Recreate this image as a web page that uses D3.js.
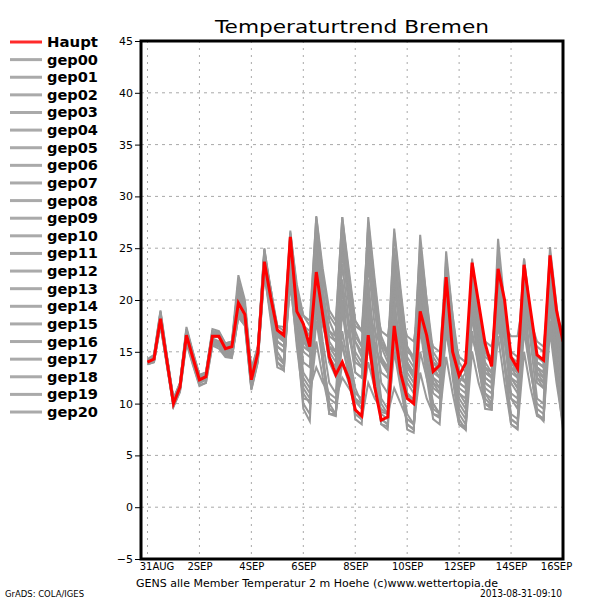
<!DOCTYPE html>
<html><head><meta charset="utf-8">
<script src="https://cdn.jsdelivr.net/npm/d3@7"></script>
<style>body{margin:0;background:#fff}svg{display:block}text{font-family:"DejaVu Sans",sans-serif}</style>
</head><body><svg id="c" width="600" height="600"></svg>
<script>
// ---- data (6-hourly steps, index 0 = 31AUG 00z) ----
const xLabels = ["31AUG","2SEP","4SEP","6SEP","8SEP","10SEP","12SEP","14SEP","16SEP"];
const xTickIdx = [0,8,16,24,32,40,48,56,64];
const yTicks = [-5,0,5,10,15,20,25,30,35,40,45];
const seriesNames = ["Haupt","gep00","gep01","gep02","gep03","gep04","gep05","gep06","gep07","gep08","gep09","gep10","gep11","gep12","gep13","gep14","gep15","gep16","gep17","gep18","gep19","gep20"];

const haupt = [14.0,14.3,18.2,14.1,10.0,11.6,16.6,14.4,12.3,12.6,16.5,16.5,15.3,15.5,19.7,18.6,12.3,14.9,
 23.7,20.2,17.1,16.6, 26.1,18.9,17.7,15.5, 22.7,18.5,14.5,12.8, 14.0,12.4,9.4,8.8, 16.6,11.6,8.4,8.7,
 17.5,12.9,10.5,10.0, 18.9,16.6,13.1,13.7, 22.2,15.0,12.7,13.9, 23.6,19.7,15.8,13.6, 23.0,20.0,14.5,13.4,
 23.4,19.0,14.7,14.2, 24.3,19.0,16.0];

const gep00 = [14.1,14.4,18.6,14.3,10.2,11.8,16.9,14.6,12.5,12.7,16.8,16.4,15.1,15.2,20.4,18.9,12.6,15.0,
 24.0,20.5,16.8,16.2, 25.4,19.5,17.0,15.2, 23.5,18.0,14.0,12.6, 15.5,13.0,10.2,9.5, 17.8,12.5,9.2,9.0,
 18.4,13.5,11.0,10.4, 19.5,16.0,13.0,13.5, 21.0,15.5,12.0,13.0, 22.0,18.5,15.0,13.8, 22.5,19.0,14.0,13.0,
 22.8,18.0,14.0,13.6, 23.5,18.5,15.5];
const gep01 = [14.2,14.6,18.9,14.5,10.4,11.9,17.2,14.8,12.6,12.9,16.9,16.8,15.6,15.8,21.5,19.5,12.9,15.3,
 24.5,21.0,17.5,17.0, 26.5,21.5,18.5,17.5, 28.0,22.5,18.0,16.5, 27.5,22.0,17.0,15.5, 26.0,20.5,15.5,14.0,
 24.0,19.0,14.0,13.0, 22.5,17.0,12.5,11.5, 20.0,15.0,11.0,10.0, 19.5,15.5,12.0,11.5, 21.0,16.0,11.0,10.5,
 22.0,17.0,12.5,12.0, 23.0,17.5,13.0];
const gep02 = [13.9,14.2,17.8,13.8,9.8,11.3,16.2,14.0,12.0,12.3,16.0,15.8,14.8,14.8,18.8,18.0,11.8,14.5,
 23.0,19.0,15.0,14.0, 22.0,15.5,10.5,10.3, 16.0,12.5,9.5,9.0, 14.0,12.0,11.0,10.5, 15.5,12.0,8.5,8.0,
 17.5,13.0,9.0,8.0, 19.0,14.0,10.0,9.0, 20.5,14.5,9.5,8.5, 21.0,16.0,11.0,10.0, 22.0,16.5,10.5,9.5,
 21.5,16.0,10.5,10.0, 22.5,16.5,11.0];
const gep03 = [14.3,14.7,19.0,14.6,10.5,12.0,17.4,15.0,12.8,13.0,17.2,17.0,15.8,16.0,22.4,20.0,13.2,15.5,
 25.0,20.5,17.0,16.5, 26.7,21.0,18.5,18.0, 28.1,23.0,19.0,18.0, 28.0,22.5,18.0,17.0, 27.0,21.0,16.0,15.0,
 26.5,20.5,15.5,14.5, 25.5,20.0,15.0,14.0, 24.0,18.5,14.0,13.0, 22.0,17.5,13.5,13.0, 24.5,18.5,13.5,12.5,
 23.5,18.0,14.5,14.0, 24.5,19.0,15.0];
const gep04 = [14.0,14.3,18.0,14.0,10.0,11.5,16.4,14.3,12.2,12.5,16.3,16.0,15.0,15.0,19.2,18.2,12.0,14.6,
 23.2,19.5,15.5,15.0, 24.5,18.0,13.0,12.0, 21.0,16.0,12.0,11.0, 19.5,15.0,11.5,10.0, 21.5,15.5,10.5,9.5,
 20.0,15.0,11.0,10.0, 17.0,14.0,12.0,11.5, 19.0,14.5,10.5,9.5, 20.5,15.0,10.5,9.8, 23.0,17.0,12.0,11.0,
 20.0,16.5,13.5,13.0, 21.5,16.0,11.0];
const gep05 = [14.1,14.5,18.5,14.4,10.3,11.9,17.0,14.7,12.6,12.8,16.7,16.6,15.5,15.7,21.0,19.2,12.8,15.2,
 24.2,20.0,16.5,16.0, 25.8,20.5,17.0,16.0, 26.5,20.0,15.0,14.0, 25.0,19.5,14.5,13.5, 28.0,22.0,16.5,15.0,
 25.0,19.0,14.0,12.5, 21.0,16.5,13.0,12.5, 22.0,16.0,11.5,11.0, 23.5,18.0,13.5,12.5, 25.9,19.5,14.0,13.0,
 22.5,17.5,13.0,12.0, 21.0,16.5,12.5];
const gep06 = [13.8,14.0,17.6,13.6,9.7,11.2,16.0,13.8,11.8,12.0,15.7,15.5,14.6,14.5,18.5,17.8,11.5,14.2,
 22.5,18.5,14.0,13.2, 23.0,17.0,12.0,11.0, 19.0,14.5,10.0,9.0, 17.0,13.5,9.5,8.5, 18.5,13.0,8.0,7.5,
 16.0,12.0,8.0,7.5, 15.0,12.5,10.0,9.0, 17.0,13.0,8.5,7.5, 18.5,14.0,9.5,9.4, 19.5,14.0,8.5,8.0,
 18.0,13.5,9.0,8.3, 19.5,13.0,8.0];
const gep07 = [14.0,14.4,18.3,14.3,10.2,11.8,16.8,14.6,12.5,12.8,16.6,16.7,15.6,15.8,20.0,19.0,13.0,15.2,
 23.8,20.5,17.5,17.4, 24.0,19.0,16.5,16.0, 22.0,18.5,16.5,16.0, 20.0,18.0,16.0,15.0, 19.0,17.0,15.5,15.0,
 18.5,16.5,15.0,14.5, 18.0,16.0,14.0,13.5, 19.5,16.5,14.5,14.0, 20.0,17.5,16.0,15.5, 19.0,17.5,16.5,16.5,
 20.5,18.0,16.0,15.5, 21.0,18.5,17.0];
const gep08 = [14.2,14.5,18.7,14.4,10.3,11.7,17.0,14.6,12.4,12.7,16.9,16.8,15.5,15.6,21.8,19.5,12.9,15.3,
 24.8,20.0,16.0,15.5, 26.0,20.0,16.5,15.0, 27.5,22.0,18.5,17.5, 28.0,23.0,18.0,17.0, 24.5,19.0,14.5,13.0,
 22.0,17.5,13.0,12.0, 23.0,18.0,13.5,12.5, 21.5,16.5,12.0,11.5, 22.5,17.0,12.5,12.0, 23.5,18.5,14.5,14.0,
 24.0,18.5,14.0,13.5, 25.1,19.5,14.5];
const gep09 = [13.9,14.1,17.9,13.9,9.8,11.4,16.3,14.1,12.0,12.4,16.1,15.9,14.8,14.7,19.0,18.2,11.6,14.4,
 23.5,19.0,14.5,13.8, 24.0,17.5,10.0,9.0, 22.5,15.0,9.0,8.8, 21.5,14.5,8.5,8.0, 22.0,14.5,8.0,7.8,
 20.5,13.0,7.5,7.2, 21.5,14.0,9.0,8.6, 20.0,13.0,8.0,7.5, 19.0,13.5,10.0,9.5, 21.5,14.0,8.0,7.5,
 20.5,14.0,9.0,8.5, 20.0,13.0,7.4];
const gep10 = [14.1,14.4,18.4,14.3,10.1,11.7,16.8,14.5,12.4,12.7,16.6,16.6,15.4,15.6,20.8,19.2,12.7,15.1,
 24.0,21.0,17.0,16.0, 25.0,19.5,15.5,15.0, 24.5,19.0,15.5,14.5, 26.0,20.5,15.0,14.0, 26.5,20.0,14.5,13.5,
 26.9,21.0,15.5,14.0, 24.5,19.0,14.5,13.5, 23.0,17.5,13.0,12.0, 21.0,16.0,12.5,12.0, 22.0,17.0,12.5,11.5,
 21.0,17.0,13.5,13.0, 22.0,17.0,13.0];
const gep11 = [13.9,14.1,17.7,13.8,9.9,11.4,16.2,14.1,12.1,12.3,15.8,15.6,14.7,14.6,18.3,17.6,11.4,14.1,
 22.8,18.5,14.5,14.0, 21.5,16.0,12.5,11.5, 13.5,12.0,11.0,10.5, 12.5,11.5,10.5,10.0, 14.0,11.5,9.0,8.5,
 15.0,11.5,8.0,7.5, 17.5,12.5,8.5,8.0, 18.0,13.0,9.0,8.0, 17.0,13.5,11.0,10.5, 18.5,13.5,9.0,8.5,
 17.0,13.0,10.0,9.5, 18.0,12.5,8.5];
const gep12 = [14.0,14.3,18.3,14.2,10.1,11.6,16.7,14.4,12.3,12.6,16.5,16.4,15.2,15.4,20.2,18.8,12.4,14.9,
 24.5,20.5,16.0,15.5, 25.0,19.0,14.0,13.5, 25.5,19.5,14.5,13.5, 23.5,18.0,13.0,12.5, 20.5,16.0,13.0,12.5,
 21.5,16.5,12.5,11.5, 22.0,17.0,12.0,11.0, 24.7,18.5,13.0,12.0, 24.0,18.5,14.0,13.0, 21.0,17.0,13.0,12.5,
 23.0,18.0,13.0,12.5, 23.5,17.5,12.0];
const gep13 = [14.1,14.5,18.4,14.4,10.3,11.9,17.1,14.9,12.7,13.0,17.0,16.9,15.8,16.0,20.5,19.3,13.4,15.5,
 23.5,20.0,17.0,16.8, 24.5,20.0,17.5,17.0, 23.0,19.5,17.0,16.5, 24.5,20.0,17.5,17.0, 23.0,19.5,17.0,16.5,
 21.0,18.5,16.5,16.0, 20.0,17.5,15.5,15.0, 18.0,16.0,14.5,14.0, 18.5,16.5,15.0,14.5, 20.5,17.5,15.0,14.5,
 19.0,17.0,15.5,15.0, 20.0,17.5,15.5];
const gep14 = [13.9,14.2,18.0,14.0,9.9,11.5,16.4,14.2,12.1,12.4,16.2,16.0,14.9,14.9,19.0,18.0,11.7,14.5,
 23.0,19.5,15.5,15.0, 23.5,17.0,11.5,10.5, 18.0,14.0,10.5,10.0, 19.0,14.5,10.5,9.5, 20.5,15.0,10.0,9.0,
 22.5,16.5,11.0,10.0, 20.0,15.5,11.5,11.0, 17.0,13.5,10.0,9.0, 16.5,14.0,11.5,11.0, 17.5,14.0,10.5,10.0,
 19.0,14.0,9.5,9.0, 21.0,15.0,9.5];
const gep15 = [14.2,14.5,18.6,14.4,10.3,11.8,17.0,14.7,12.5,12.8,16.8,16.7,15.5,15.7,21.2,19.4,12.8,15.2,
 24.6,20.5,16.5,16.0, 25.5,20.0,16.0,15.0, 27.0,21.0,16.0,15.0, 26.5,21.0,16.0,14.5, 25.0,19.5,14.0,13.0,
 23.0,18.0,13.5,12.5, 26.3,20.0,14.0,13.0, 23.5,18.0,13.0,12.0, 22.0,17.0,13.0,12.5, 24.0,18.0,12.5,12.0,
 22.0,17.5,12.0,11.5, 24.0,18.0,12.5];
const gep16 = [13.8,14.0,17.5,13.7,9.7,11.1,15.8,13.7,11.7,12.0,15.6,15.3,14.5,14.4,18.4,17.5,11.3,14.0,
 22.6,18.0,13.5,13.2, 22.5,16.5,11.0,10.0, 20.0,14.0,9.5,9.0, 16.0,12.5,9.0,8.5, 12.0,10.5,9.5,9.0,
 11.5,10.0,8.5,8.0, 13.0,10.5,9.0,8.8, 14.5,11.0,8.0,7.5, 15.0,12.0,10.0,9.8, 16.5,12.0,8.0,7.6,
 15.0,11.5,8.8,8.5, 17.0,12.0,8.0];
const gep17 = [14.0,14.4,18.4,14.3,10.2,11.7,16.8,14.5,12.4,12.7,16.6,16.5,15.3,15.5,20.6,19.0,12.6,15.0,
 24.2,20.0,16.0,15.5, 24.8,19.0,15.0,14.5, 24.0,18.5,14.0,13.0, 22.0,17.0,13.0,12.5, 23.5,17.5,12.0,11.0,
 19.5,15.0,12.0,11.0, 18.5,14.5,11.0,10.5, 21.0,15.5,11.0,10.5, 21.5,16.5,12.0,11.5, 24.5,18.0,12.5,11.5,
 23.5,17.5,12.5,11.5, 22.5,17.0,12.0];
const gep18 = [14.0,14.3,18.1,14.1,10.1,11.6,16.6,14.5,12.5,12.8,16.4,16.5,15.5,15.7,19.5,18.6,12.9,15.1,
 23.6,20.0,16.5,16.5, 23.0,18.5,16.0,15.5, 20.5,17.5,15.5,15.0, 18.5,16.5,14.0,13.5, 17.0,15.5,14.0,13.5,
 19.0,16.0,13.5,13.0, 19.5,16.0,12.5,12.0, 20.5,16.5,12.5,12.0, 20.0,17.0,14.5,14.0, 21.0,17.5,14.0,13.5,
 21.5,17.5,14.0,13.5, 22.5,18.0,13.5];
const gep19 = [14.2,14.6,18.8,14.5,10.4,11.9,17.2,14.8,12.7,12.9,17.0,16.8,15.7,15.9,21.6,19.6,13.0,15.4,
 24.9,21.0,17.0,16.5, 26.3,21.0,17.5,16.5, 26.0,21.0,17.0,16.0, 27.0,21.5,16.5,15.5, 27.5,21.5,16.0,14.5,
 24.5,19.5,14.5,13.5, 23.5,18.5,13.5,12.5, 22.5,17.0,12.0,11.5, 23.0,17.5,13.0,12.5, 22.5,17.5,13.5,13.0,
 24.0,18.5,13.5,12.5, 24.5,18.5,14.0];
const gep20 = [13.9,14.1,17.8,13.8,9.8,11.3,16.1,14.0,12.0,12.3,15.9,15.7,14.8,14.6,18.7,17.8,11.6,14.3,
 23.0,19.0,14.0,13.5, 23.5,16.5,9.5,8.3, 21.0,14.0,9.0,9.0, 20.0,14.0,9.0,8.5, 19.5,13.5,8.5,8.0,
 18.0,12.5,8.0,7.5, 19.0,13.5,9.5,9.0, 18.5,12.5,8.0,7.8, 20.0,14.5,10.0,9.5, 20.0,14.0,8.5,8.0,
 19.5,13.5,9.0,8.5, 21.0,14.0,8.0];

const members = [gep00,gep01,gep02,gep03,gep04,gep05,gep06,gep07,gep08,gep09,gep10,
                 gep11,gep12,gep13,gep14,gep15,gep16,gep17,gep18,gep19,gep20];

// ---- drawing ----
const svg = d3.select("#c");
const L = 141, R = 563, T = 41, B = 559;
const x = d3.scaleLinear().domain([-1, 64]).range([L, R]);
const y = d3.scaleLinear().domain([-5, 45]).range([B, T]);
const gridCol = "#a8a8a8";

// grid
svg.append("g").selectAll("line").data(yTicks).join("line")
  .attr("x1", L).attr("x2", R).attr("y1", d => y(d)).attr("y2", d => y(d))
  .attr("stroke", gridCol).attr("stroke-width", 1).attr("stroke-dasharray", "3,4");
svg.append("g").selectAll("line").data(xTickIdx).join("line")
  .attr("x1", d => x(d)).attr("x2", d => x(d)).attr("y1", T).attr("y2", B)
  .attr("stroke", gridCol).attr("stroke-width", 1).attr("stroke-dasharray", "2,5");

// lines
const line = d3.line().x((d, i) => x(i)).y(d => y(d));
svg.append("clipPath").attr("id", "pc").append("rect")
  .attr("x", L).attr("y", T).attr("width", R - L).attr("height", B - T);
const lg = svg.append("g").attr("clip-path", "url(#pc)");
lg.selectAll("path.m").data(members).join("path").attr("class", "m")
  .attr("d", line).attr("fill", "none").attr("stroke", "#999999")
  .attr("stroke-width", 2).attr("stroke-linejoin", "miter");
lg.append("path").datum(haupt).attr("d", line).attr("fill", "none")
  .attr("stroke", "#ff0000").attr("stroke-width", 3);

// axes
const yAx = svg.append("g").attr("transform", `translate(${L},0)`)
  .call(d3.axisLeft(y).tickValues(yTicks).tickSize(6).tickPadding(2).tickFormat(d => d < 0 ? "\u2212" + (-d) : d));
yAx.select(".domain").remove();
yAx.selectAll("line").attr("stroke", "#000").attr("stroke-width", 1);
yAx.selectAll("text").attr("font-size", 11).attr("fill", "#000").style("font-family", "DejaVu Sans");

const xAx = svg.append("g").attr("transform", `translate(0,${B})`)
  .call(d3.axisBottom(x).tickValues(xTickIdx).tickSize(0).tickPadding(4)
    .tickFormat((d, i) => xLabels[i]));
xAx.select(".domain").remove();
xAx.selectAll("text").attr("font-size", 10).attr("fill", "#000").style("font-family", "DejaVu Sans")
  .attr("dx", (d, i) => i === 0 ? 9 : (i === xTickIdx.length - 1 ? -7 : 0));

// frame
svg.append("rect").attr("x", L).attr("y", T).attr("width", R - L).attr("height", B - T)
  .attr("fill", "none").attr("stroke", "#000").attr("stroke-width", 3);

// title and texts
svg.append("text").attr("x", 352).attr("y", 33).attr("text-anchor", "middle")
  .attr("font-size", 18).attr("textLength", 274).attr("lengthAdjust", "spacingAndGlyphs")
  .text("Temperaturtrend Bremen");
svg.append("text").attr("x", 317).attr("y", 587).attr("text-anchor", "middle")
  .attr("font-size", 11).attr("textLength", 362).attr("lengthAdjust", "spacingAndGlyphs")
  .text("GENS alle Member Temperatur 2 m Hoehe (c)www.wettertopia.de");
svg.append("text").attr("x", 5).attr("y", 597).attr("font-size", 9)
  .attr("textLength", 79).attr("lengthAdjust", "spacingAndGlyphs").text("GrADS: COLA/IGES");
svg.append("text").attr("x", 562).attr("y", 597).attr("text-anchor", "end").attr("font-size", 10)
  .attr("textLength", 82).attr("lengthAdjust", "spacingAndGlyphs").text("2013-08-31-09:10");

// legend
const leg = svg.append("g").selectAll("g").data(seriesNames).join("g")
  .attr("transform", (d, i) => `translate(0,${42 + i * 17.62})`);
leg.append("line").attr("x1", 10).attr("x2", 42).attr("y1", 0).attr("y2", 0)
  .attr("stroke", (d, i) => i === 0 ? "#ff2a2a" : "#aaaaaa").attr("stroke-width", 3);
leg.append("text").attr("x", 47).attr("y", 5).attr("font-size", 14).attr("font-weight", "bold")
  .attr("textLength", 51).attr("lengthAdjust", "spacingAndGlyphs").text(d => d);
</script></body></html>
